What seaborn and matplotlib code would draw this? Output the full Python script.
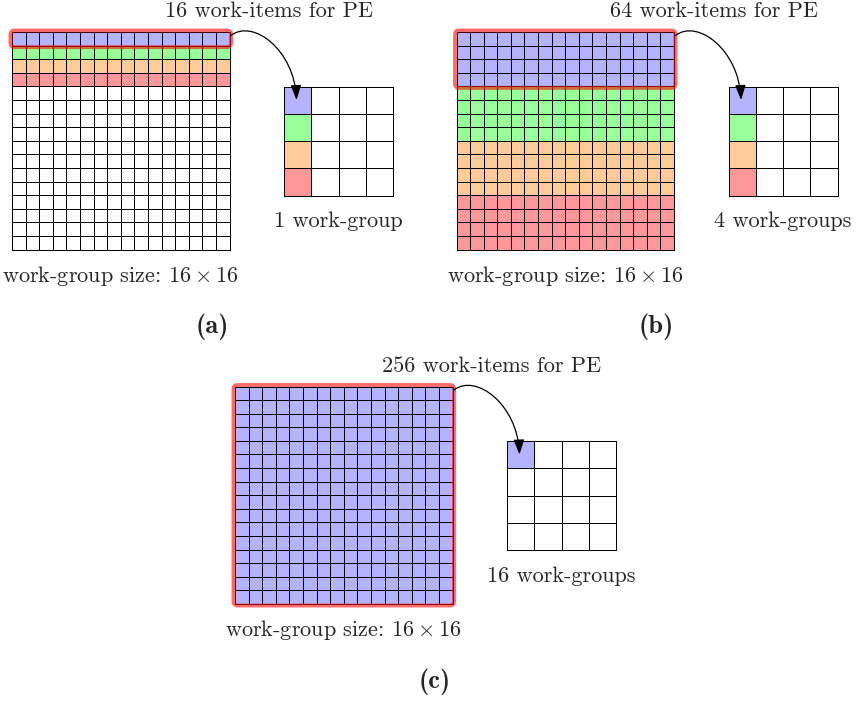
import numpy as np
import matplotlib
matplotlib.use("Agg")
import matplotlib.pyplot as plt
import seaborn as sns
from matplotlib.colors import ListedColormap
from matplotlib.patches import FancyBboxPatch, FancyArrowPatch
from matplotlib.path import Path

# ---- data -------------------------------------------------------------
# cell codes: 0 = idle, 1..4 = processing element that owns the cell
cell_colors = ["#FFFFFF", "#B3B3FF", "#99FF99", "#FFCC99", "#FF9999"]

wg_size = 16                     # work-group is wg_size x wg_size work-items
work_items = [16, 64, 256]       # work-items handled by one PE
group_labels = ["1 work-group", "4 work-groups", "16 work-groups"]
panel_tags = ["(a)", "(b)", "(c)"]
pe_rows_per_panel = [1, 4, 16]   # rows of the work-group given to the first PE

# owner of each row of the 16x16 work-group
rows_a = [1, 2, 3, 4, 0, 0, 0, 0, 0, 0, 0, 0, 0, 0, 0, 0]
rows_b = [1, 1, 1, 1, 2, 2, 2, 2, 3, 3, 3, 3, 4, 4, 4, 4]
rows_c = [1, 1, 1, 1, 1, 1, 1, 1, 1, 1, 1, 1, 1, 1, 1, 1]

# 4x4 grid of processing elements and the work-groups they share
pe_grid_a = [[1, 0, 0, 0], [2, 0, 0, 0], [3, 0, 0, 0], [4, 0, 0, 0]]
pe_grid_b = [[1, 0, 0, 0], [2, 0, 0, 0], [3, 0, 0, 0], [4, 0, 0, 0]]
pe_grid_c = [[1, 0, 0, 0], [0, 0, 0, 0], [0, 0, 0, 0], [0, 0, 0, 0]]

row_owners = [rows_a, rows_b, rows_c]
pe_grids = [pe_grid_a, pe_grid_b, pe_grid_c]

# ---- layout (pixels) ---------------------------------------------------
W, H = 860, 701
origins = [(12.0, 32.0), (456.5, 32.0), (235.0, 386.5)]
BIG = 217.5
SMALL = 109.0
SMALL_OFF = (272.0, 54.5)

sns.set_style("white")
plt.rcParams["font.family"] = ["cmr10", "DejaVu Serif"]
plt.rcParams["mathtext.fontset"] = "cm"
plt.rcParams["axes.unicode_minus"] = False

fig = plt.figure(figsize=(W / 100, H / 100), dpi=100)
cmap = ListedColormap(cell_colors)


def px_axes(x, y, w, h):
    return fig.add_axes([x / W, 1 - (y + h) / H, w / W, h / H])


def draw_grid(ax, data, lw):
    sns.heatmap(np.asarray(data), ax=ax, cmap=cmap, vmin=-0.5, vmax=4.5,
                cbar=False, linewidths=lw, linecolor="black",
                xticklabels=False, yticklabels=False)
    ax.collections[0].set_clip_on(False)
    ax.set_xlabel("")
    ax.set_ylabel("")


for k in range(3):
    ox, oy = origins[k]
    big = np.tile(np.asarray(row_owners[k])[:, None], (1, wg_size))
    draw_grid(px_axes(ox, oy, BIG, BIG), big, 0.6)
    sx, sy = ox + SMALL_OFF[0], oy + SMALL_OFF[1]
    draw_grid(px_axes(sx, sy, SMALL, SMALL), pe_grids[k], 0.6)

# overlay for outlines, arrows and labels
ov = fig.add_axes([0, 0, 1, 1])
ov.set_xlim(0, W)
ov.set_ylim(H, 0)
ov.axis("off")
ov.patch.set_alpha(0)

serif = ["cmr10", "DejaVu Serif"]
bold = ["cmb10", "DejaVu Serif"]
FS = 16

for k in range(3):
    ox, oy = origins[k]
    cell = BIG / wg_size
    bh = pe_rows_per_panel[k] * cell
    box = FancyBboxPatch((ox - 1.5, oy - 1.5), BIG + 3, bh + 3,
                         boxstyle="round,pad=0,rounding_size=4",
                         fill=False, ec="red", alpha=0.58, lw=2.8, zorder=3)
    ov.add_patch(box)

    sx, sy = ox + SMALL_OFF[0], oy + SMALL_OFF[1]
    p0 = (ox + BIG + 1.5, oy + 3.5)
    p3 = (sx + 12.5, sy + 13.5)
    verts = [p0, (p0[0] + 22, p0[1] - 17), (p3[0] - 2, p3[1] - 50), p3]
    path = Path(verts, [Path.MOVETO, Path.CURVE4, Path.CURVE4, Path.CURVE4])
    arr = FancyArrowPatch(path=path,
                          arrowstyle="-|>,head_length=0.45,head_width=0.16",
                          mutation_scale=20, lw=0.9, color="black", zorder=4)
    ov.add_patch(arr)

    ov.text(ox + 257, oy - 15, f"{work_items[k]} work-items for PE",
            ha="center", va="baseline", fontsize=FS, family=serif)
    ov.text(sx + SMALL / 2, oy + 195, group_labels[k],
            ha="center", va="baseline", fontsize=FS, family=serif)
    ov.text(ox + 108.5, oy + 250, f"work-group size: ${wg_size}\\times{wg_size}$",
            ha="center", va="baseline", fontsize=FS, family=serif)
    ov.text(ox + 200, oy + 295, panel_tags[k],
            ha="center", va="center", fontsize=19, family=bold)

fig.savefig("out.png", dpi=100)
